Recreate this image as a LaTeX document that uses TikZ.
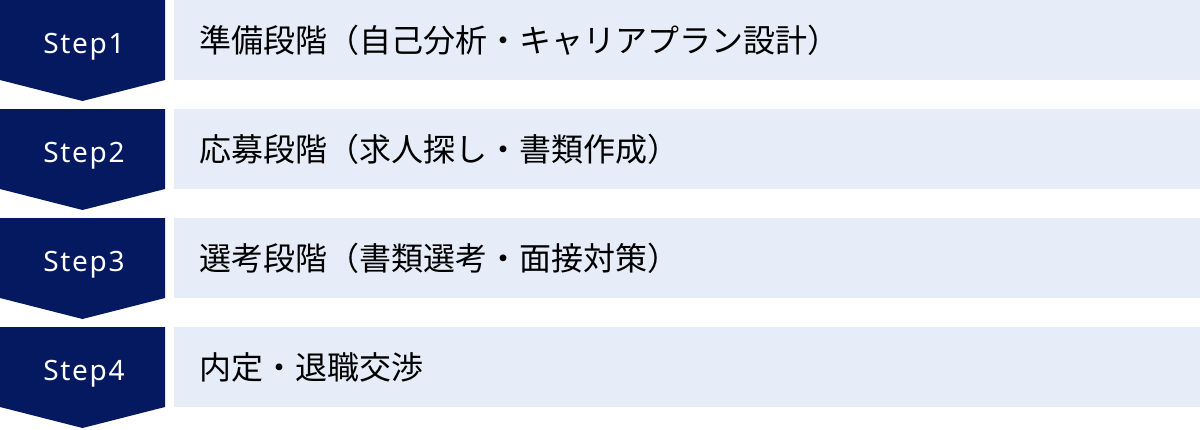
\documentclass[tikz,border=0pt]{standalone}
\usepackage{fontspec}
\setmainfont{Noto Sans CJK JP}
\newfontfamily\steplat[LetterSpace=6]{Noto Sans}
\usepackage{tikz}
\definecolor{navy}{RGB}{5,25,96}
\definecolor{paleblue}{RGB}{230,236,248}

\begin{document}
\begin{tikzpicture}[line cap=round,line join=round,x=0.5pt,y=-0.5pt,
    steplabel/.style={text=white,anchor=base,inner sep=0pt,font=\steplat\fontsize{14}{17}\selectfont},
    stagetext/.style={anchor=west,inner sep=0pt,font=\fontsize{16}{19}\selectfont}]
    \useasboundingbox (0,0) rectangle (1200,429);
    % chevrons
    \fill [navy] (0,0) -- (165,0) -- (165,80) -- (82.5,101) -- (0,80) -- cycle;
    \fill [navy] (0,109) -- (165,109) -- (165,189) -- (82.5,210) -- (0,189) -- cycle;
    \fill [navy] (0,218) -- (165,218) -- (165,298) -- (82.5,319) -- (0,298) -- cycle;
    \fill [navy] (0,327) -- (165,327) -- (165,407) -- (82.5,428) -- (0,407) -- cycle;
    % stage bars
    \fill [paleblue] (174,0) rectangle (1200,80);
    \fill [paleblue] (174,109) rectangle (1200,189);
    \fill [paleblue] (174,218) rectangle (1200,298);
    \fill [paleblue] (174,327) rectangle (1200,407);
    % labels
    \node [steplabel] (s1) at (84,53) {Step1};
    \node [steplabel] (s2) at (84,162) {Step2};
    \node [steplabel] (s3) at (84,271) {Step3};
    \node [steplabel] (s4) at (84,380) {Step4};
    \node [stagetext] (t1) at (199,40) {準備段階（自己分析・キャリアプラン設計）};
    \node [stagetext] (t2) at (199,149) {応募段階（求人探し・書類作成）};
    \node [stagetext] (t3) at (199,258) {選考段階（書類選考・面接対策）};
    \node [stagetext] (t4) at (199,367) {内定・退職交渉};
\end{tikzpicture}
\end{document}
